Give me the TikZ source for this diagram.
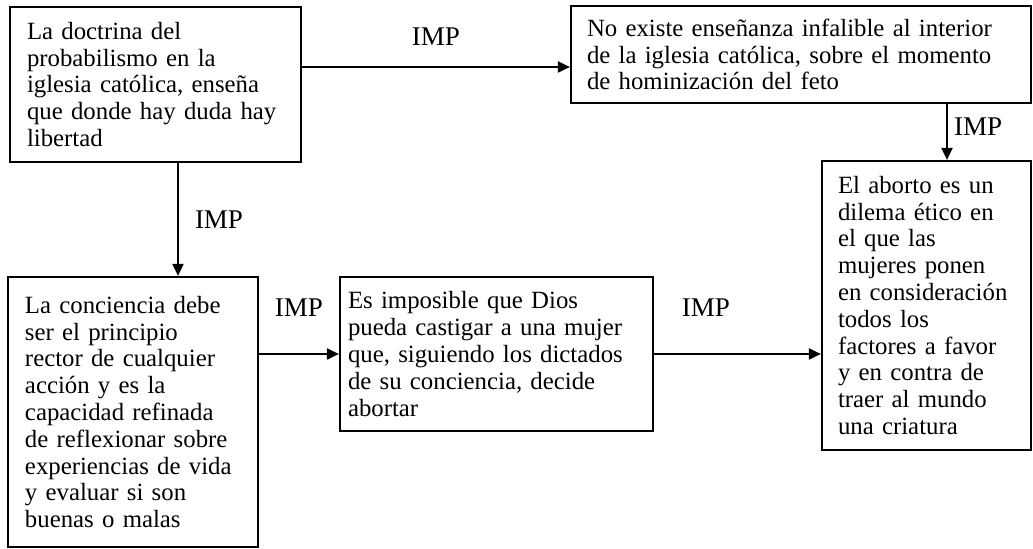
\documentclass[tikz,border=0pt]{standalone}
\usepackage{fontspec}
\setmainfont{Liberation Serif}
\usetikzlibrary{positioning,arrows.meta}
\begin{document}
\begin{tikzpicture}[x=0.5pt,y=-0.5pt, font=\fontsize{12.4}{13.4}\selectfont,
    caja/.style={draw, line width=1.1pt, align=left, inner ysep=0pt},
    flecha/.style={-{Triangle[length=6pt,width=5.5pt]}, line width=1pt},
    etiq/.style={font=\fontsize{13.5}{14}\selectfont, inner sep=2pt}]
  \useasboundingbox (0,0) rectangle (1033,549);
  \node[caja, text width=128.5pt, inner xsep=8.5pt, minimum height=77.5pt] (doctrina) at (155.5,84.5)
    {La doctrina del\\probabilismo en la\\iglesia católica, enseña\\que donde hay duda hay\\libertad};
  \node[caja, text width=214pt, inner xsep=8pt, minimum height=48.5pt] (ensenanza) at (801,54.5)
    {No existe enseñanza infalible al interior\\de la iglesia católica, sobre el momento\\de hominización del feto};
  \node[caja, text width=88.5pt, inner xsep=8pt, minimum height=144.5pt] (aborto) at (926.5,305.5)
    {El aborto es un\\dilema ético en\\el que las\\mujeres ponen\\en consideración\\todos los\\factores a favor\\y en contra de\\traer al mundo\\una criatura};
  \node[caja, text width=108pt, inner xsep=8.5pt, minimum height=135pt] (conciencia) at (133,412)
    {La conciencia debe\\ser el principio\\rector de cualquier\\acción y es la\\capacidad refinada\\de reflexionar sobre\\experiencias de vida\\y evaluar si son\\buenas o malas};
  \node[caja, text width=148.5pt, inner xsep=4pt, minimum height=77pt] (castigo) at (496.5,354)
    {Es imposible que Dios\\pueda castigar a una mujer\\que, siguiendo los dictados\\de su conciencia, decide\\abortar};
  \draw[flecha] ([yshift=8.75pt]doctrina.east) -- node[etiq, above=8pt] (imp1) {IMP} ([yshift=8.75pt]doctrina.east -| ensenanza.west);
  \draw[flecha] ([xshift=10.25pt]aborto.north |- ensenanza.south) -- node[etiq, right=1pt, pos=0.4] (imp2) {IMP} ([xshift=10.25pt]aborto.north);
  \draw[flecha] ([xshift=11.25pt]doctrina.south) -- node[etiq, right=6pt] (imp3) {IMP} ([xshift=11.25pt]doctrina.south |- conciencia.north);
  \draw[flecha] (castigo.west -| conciencia.east) -- node[etiq, above=16pt] (imp4) {IMP} (castigo.west);
  \draw[flecha] (castigo.east) -- node[etiq, above=16pt, pos=0.31] (imp5) {IMP} (castigo.east -| aborto.west);
\end{tikzpicture}
\end{document}
